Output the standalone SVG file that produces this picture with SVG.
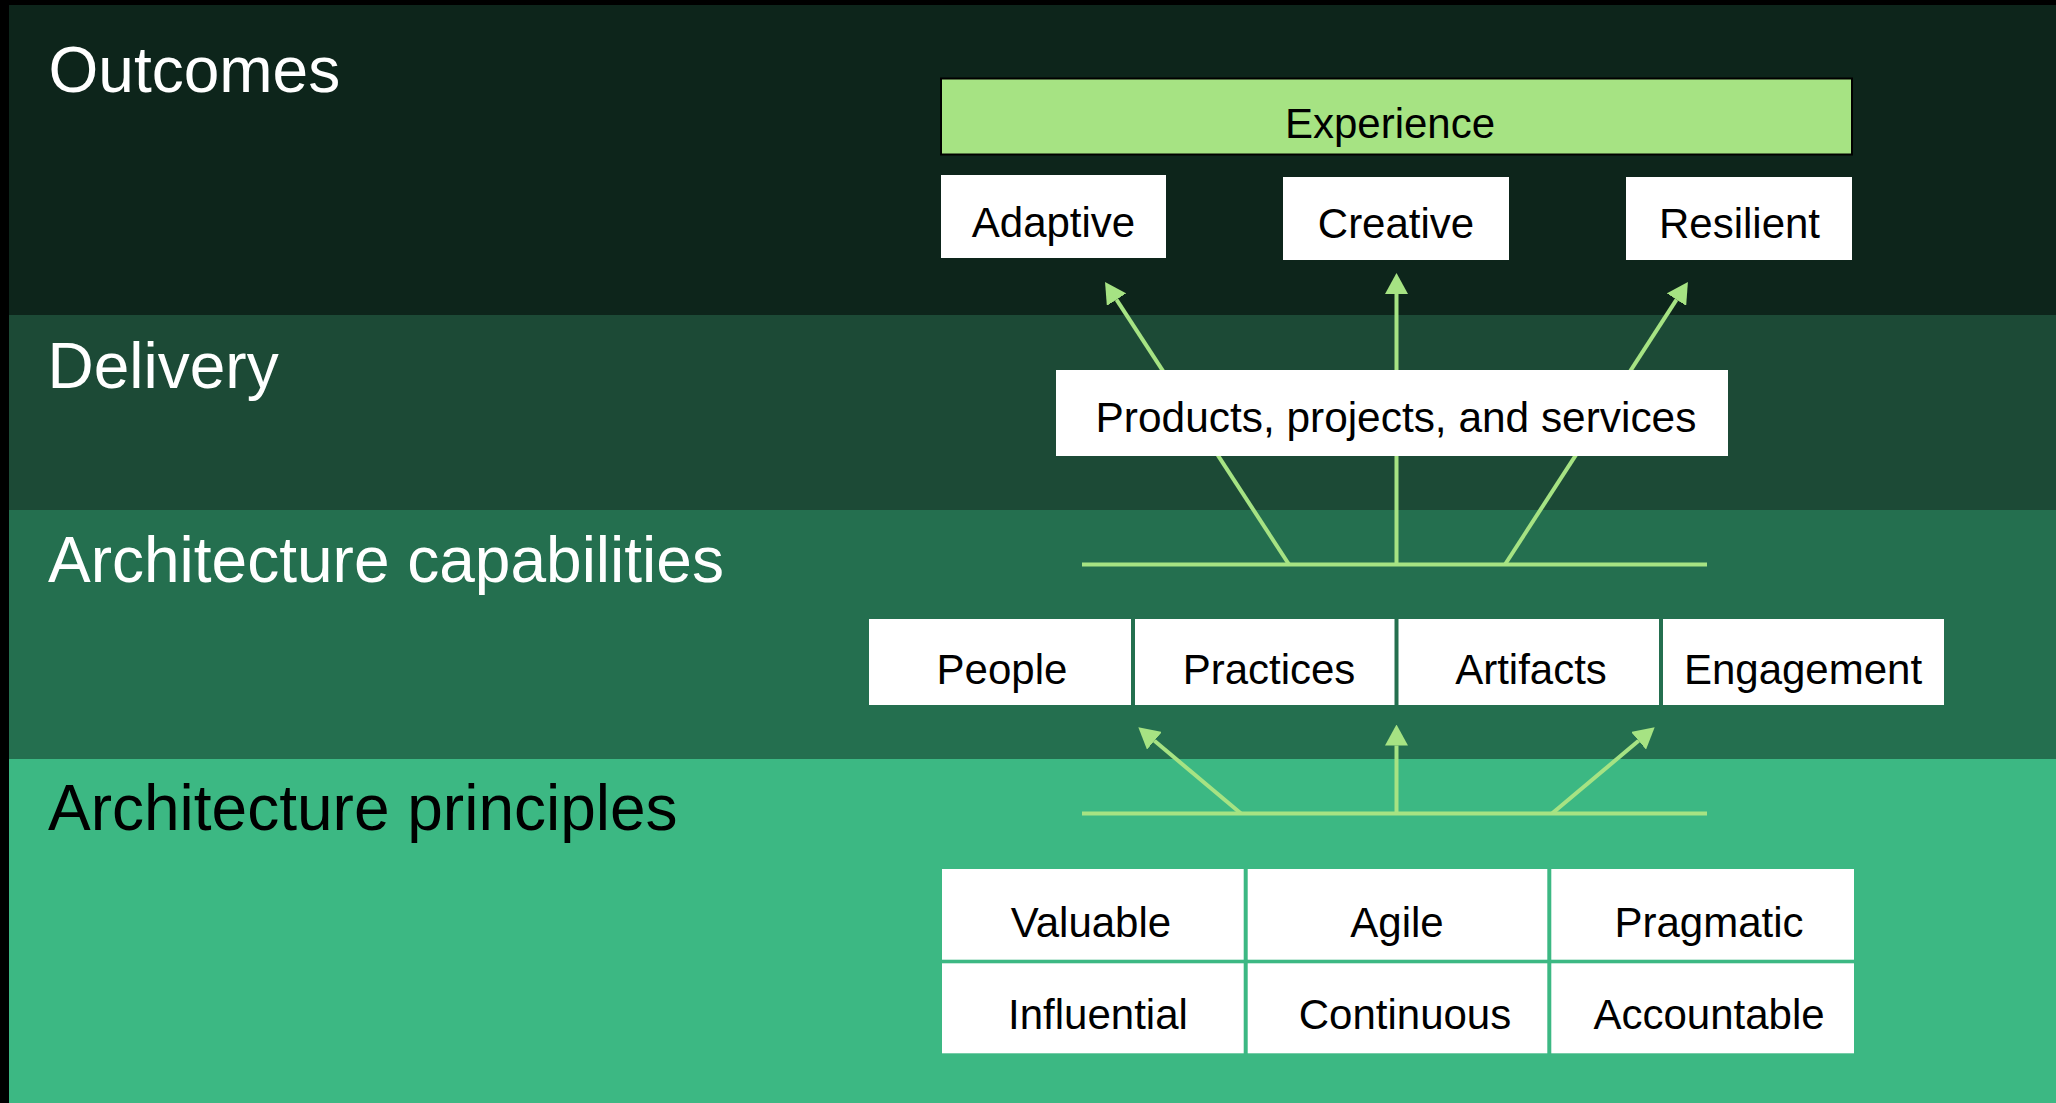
<svg xmlns="http://www.w3.org/2000/svg" width="2056" height="1103" viewBox="0 0 2056 1103">
  <style>
    .title { font-family: "Liberation Sans", Arial, sans-serif; font-size: 64px; }
    .lbl { font-family: "Liberation Sans", Arial, sans-serif; font-size: 42px; fill: #000000; text-anchor: middle; }
    .box { fill: #ffffff; }
    .conn { stroke: #A6E383; stroke-width: 4; fill: none; }
  </style>
  <defs>
    <marker id="ah" markerUnits="userSpaceOnUse" viewBox="0 0 21 23" markerWidth="21" markerHeight="23" refX="0" refY="11.5" orient="auto">
      <path d="M0,0 L21,11.5 L0,23 z" fill="#A6E383"/>
    </marker>
  </defs>

  <!-- background bands -->
  <g id="background">
    <rect x="0" y="0" width="2056" height="1103" fill="#000000"/>
    <rect x="9" y="5" width="2047" height="310" fill="#0D251B"/>
    <rect x="9" y="315" width="2047" height="195" fill="#1C4A36"/>
    <rect x="9" y="510" width="2047" height="249" fill="#246F4F"/>
    <rect x="9" y="759" width="2047" height="344" fill="#3CB883"/>
  </g>

  <g id="band-titles">
    <text class="title" x="48.5" y="92" fill="#ffffff">Outcomes</text>
    <text class="title" x="47.5" y="388" fill="#ffffff">Delivery</text>
    <text class="title" x="48" y="582" fill="#ffffff">Architecture capabilities</text>
    <text class="title" x="48" y="830" fill="#000000">Architecture principles</text>
  </g>

  <!-- connectors -->
  <g id="connectors">
    <line class="conn" x1="1082" y1="564.5" x2="1707" y2="564.5"/>
    <line class="conn" x1="1289" y1="564.5" x2="1116.5" y2="299.6" marker-end="url(#ah)"/>
    <line class="conn" x1="1396.5" y1="564.5" x2="1396.5" y2="294" marker-end="url(#ah)"/>
    <line class="conn" x1="1505" y1="564.5" x2="1676.5" y2="299.6" marker-end="url(#ah)"/>

    <line class="conn" x1="1082" y1="813.5" x2="1707" y2="813.5"/>
    <line class="conn" x1="1241" y1="813.5" x2="1154.4" y2="740.8" marker-end="url(#ah)"/>
    <line class="conn" x1="1396.5" y1="813.5" x2="1396.5" y2="745.5" marker-end="url(#ah)"/>
    <line class="conn" x1="1552" y1="813.5" x2="1638.6" y2="740.8" marker-end="url(#ah)"/>
  </g>

  <!-- outcomes -->
  <g id="node-experience">
    <rect x="941" y="78.5" width="911" height="76" fill="#A6E383" stroke="#000000" stroke-width="2"/>
    <text class="lbl" x="1390" y="137.5">Experience</text>
  </g>
  <g id="node-adaptive">
    <rect class="box" x="941" y="175" width="225" height="83"/>
    <text class="lbl" x="1053.5" y="236.5">Adaptive</text>
  </g>
  <g id="node-creative">
    <rect class="box" x="1283" y="177" width="226" height="83"/>
    <text class="lbl" x="1396" y="237.5">Creative</text>
  </g>
  <g id="node-resilient">
    <rect class="box" x="1626" y="177" width="226" height="83"/>
    <text class="lbl" x="1739.5" y="237.5">Resilient</text>
  </g>

  <!-- delivery -->
  <g id="node-products">
    <rect class="box" x="1056" y="370" width="672" height="86"/>
    <text class="lbl" x="1396" y="432" style="font-size:42.4px">Products, projects, and services</text>
  </g>

  <!-- capabilities -->
  <g id="node-people">
    <rect class="box" x="869" y="619" width="262" height="86"/>
    <text class="lbl" x="1002" y="684">People</text>
  </g>
  <g id="node-practices">
    <rect class="box" x="1135" y="619" width="259.5" height="86"/>
    <text class="lbl" x="1269" y="684">Practices</text>
  </g>
  <g id="node-artifacts">
    <rect class="box" x="1398.5" y="619" width="260.5" height="86"/>
    <text class="lbl" x="1531" y="684">Artifacts</text>
  </g>
  <g id="node-engagement">
    <rect class="box" x="1663" y="619" width="281" height="86"/>
    <text class="lbl" x="1803" y="684">Engagement</text>
  </g>

  <!-- principles -->
  <g id="node-valuable">
    <rect class="box" x="942" y="869" width="301.7" height="90.7"/>
    <text class="lbl" x="1091" y="937">Valuable</text>
  </g>
  <g id="node-agile">
    <rect class="box" x="1247.7" y="869" width="299.6" height="90.7"/>
    <text class="lbl" x="1397" y="937">Agile</text>
  </g>
  <g id="node-pragmatic">
    <rect class="box" x="1551.3" y="869" width="302.7" height="90.7"/>
    <text class="lbl" x="1709" y="937">Pragmatic</text>
  </g>
  <g id="node-influential">
    <rect class="box" x="942" y="963.3" width="301.7" height="90"/>
    <text class="lbl" x="1098" y="1029">Influential</text>
  </g>
  <g id="node-continuous">
    <rect class="box" x="1247.7" y="963.3" width="299.6" height="90"/>
    <text class="lbl" x="1405" y="1029">Continuous</text>
  </g>
  <g id="node-accountable">
    <rect class="box" x="1551.3" y="963.3" width="302.7" height="90"/>
    <text class="lbl" x="1709" y="1029">Accountable</text>
  </g>
</svg>
